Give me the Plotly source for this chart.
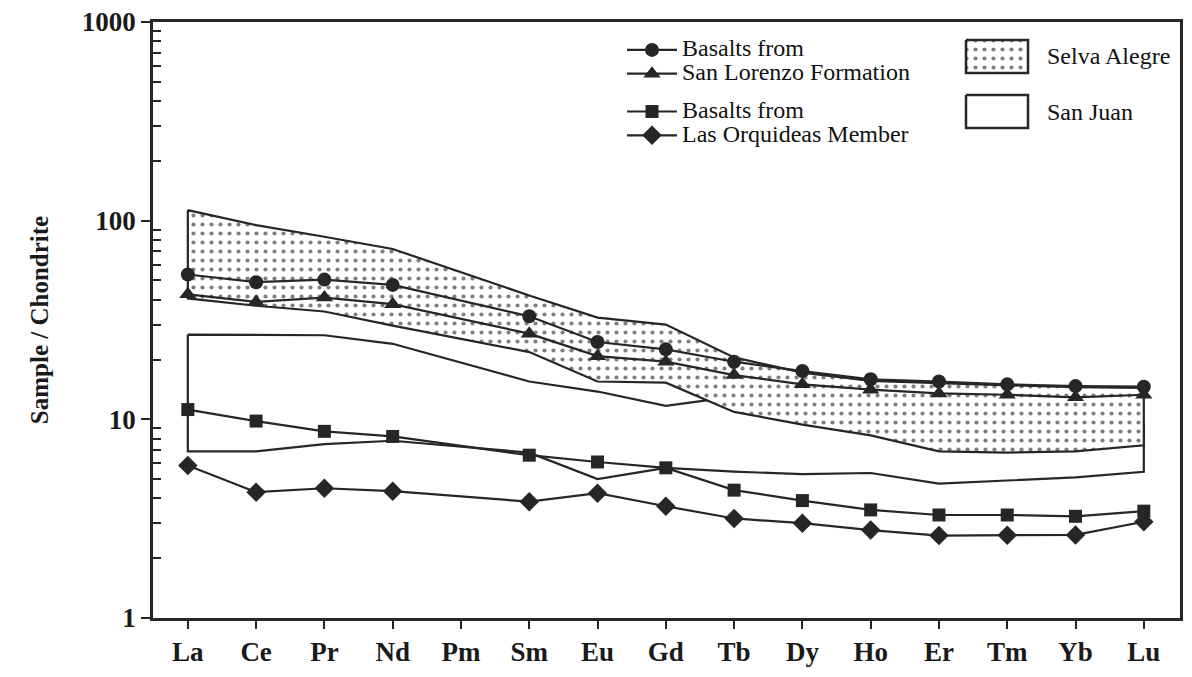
import plotly.graph_objects as go

# ---------------- data ----------------
ALL_REE = ["La", "Ce", "Pr", "Nd", "Pm", "Sm", "Eu", "Gd", "Tb", "Dy", "Ho", "Er", "Tm", "Yb", "Lu"]
MEASURED = ["La", "Ce", "Pr", "Nd", "Sm", "Eu", "Gd", "Tb", "Dy", "Ho", "Er", "Tm", "Yb", "Lu"]

san_lorenzo_a = [53.6, 49.0, 50.5, 47.5, 33.0, 24.5, 22.5, 19.5, 17.5, 15.9, 15.5, 15.0, 14.7, 14.6]   # circles
san_lorenzo_b = [42.6, 39.0, 41.0, 38.0, 27.0, 20.8, 19.5, 16.7, 15.0, 14.1, 13.5, 13.3, 12.9, 13.3]   # triangles
orquideas_a = [11.2, 9.8, 8.7, 8.2, 6.6, 6.1, 5.7, 4.4, 3.9, 3.5, 3.3, 3.3, 3.25, 3.45]              # squares
orquideas_b = [5.85, 4.3, 4.5, 4.35, 3.85, 4.25, 3.65, 3.17, 3.0, 2.77, 2.6, 2.61, 2.62, 3.05]        # diamonds

selva_upper = [113, 95, 83, 72, 42, 32.5, 30, 20.5, 17.2, 15.6, 15.2, 14.8, 14.5, 14.4]
selva_lower = [40.6, 37.3, 34.9, 29.6, 21.8, 15.5, 15.3, 10.9, 9.4, 8.3, 6.9, 6.8, 6.9, 7.4]
sanjuan_upper = [26.7, 26.6, 26.5, 24.0, 15.5, 13.8, 11.7, 13.0, 11.0, 10.0, 9.0, 9.0, 9.0, 9.5]
sanjuan_lower = [6.9, 6.9, 7.5, 7.8, 6.8, 5.0, 5.7, 5.45, 5.3, 5.37, 4.75, 4.93, 5.1, 5.44]

Y_TICKS = [1, 10, 100, 1000]
Y_TICK_TEXT = ["1", "10", "100", "1000"]

# ---------------- style / geometry ----------------
INK = "#262626"
LINE_W = 2.2
SERIF = "Liberation Serif"
OFF = 8                                   # page body margin of the html output
W, H = 1192 - OFF, 677 - OFF
PL, PR, PT, PB = 153, 1180, 22, 618       # plot-area box in window pixels
STIPPLE = dict(shape=".", fgcolor="#000000", bgcolor="white", size=9, solidity=0.17)
LEGEND_TEXT_PX = 24

def fx(px):   # window px -> paper x
    return (px - PL) / (PR - PL)

def fy(py):   # window py -> paper y
    return (PB - py) / (PB - PT)

def big(txt):
    return f"<span style='font-size:{LEGEND_TEXT_PX}px'>{txt}</span>"

fig = go.Figure()

def band(upper, lower):
    xs = MEASURED + MEASURED[::-1] + [MEASURED[0]]
    ys = list(upper) + list(lower)[::-1] + [upper[0]]
    return xs, ys

# San Juan field (white, outlined)
xs, ys = band(sanjuan_upper, sanjuan_lower)
fig.add_trace(go.Scatter(
    x=xs, y=ys, mode="lines", fill="toself", fillcolor="white",
    line=dict(color=INK, width=LINE_W), name="San Juan", showlegend=False,
    hoverinfo="skip"))

# Selva Alegre field (stippled)
xs, ys = band(selva_upper, selva_lower)
fig.add_trace(go.Scatter(
    x=xs, y=ys, mode="lines", fill="toself", fillpattern=STIPPLE,
    line=dict(color=INK, width=LINE_W), name="Selva Alegre", showlegend=False,
    hoverinfo="skip"))

def series(vals, symbol, size, name, group, rank):
    fig.add_trace(go.Scatter(
        x=MEASURED, y=vals, mode="lines+markers", name=big(name),
        line=dict(color=INK, width=LINE_W),
        marker=dict(symbol=symbol, size=size, color=INK, line=dict(width=0)),
        legendgroup=group, legendrank=rank))

# drawing order: lower series first, circles on top
series(orquideas_b, "diamond", 15, "Las Orquideas Member", "g2", 4)
series(orquideas_a, "square", 13, "Basalts from", "g2", 3)
series(san_lorenzo_b, "triangle-up", 15, "San Lorenzo Formation", "g1", 2)
series(san_lorenzo_a, "circle", 14, "Basalts from", "g1", 1)

# ---- key for the two fields: a small separate subplot in window-pixel units ----
KX0, KX1, KY0, KY1 = 962, 1032, 36, 132
def key_box(x0, x1, y0, y1, pattern, label):
    kw = dict(fillpattern=pattern) if pattern else dict(fillcolor="white")
    fig.add_trace(go.Scatter(
        x=[x0, x1, x1, x0, x0], y=[y0, y0, y1, y1, y0], mode="lines", fill="toself",
        line=dict(color=INK, width=2.5), xaxis="x2", yaxis="y2",
        showlegend=False, hoverinfo="skip", **kw))
    fig.add_annotation(x=fx(1045), y=fy((y0 + y1) / 2), xref="paper", yref="paper",
                       text=label, showarrow=False, xanchor="left", yanchor="middle",
                       font=dict(family=SERIF, size=24, color="#111"))

key_box(966, 1028, 40, 73, STIPPLE, "Selva Alegre")
key_box(966, 1028, 95, 128, None, "San Juan")

axis_common = dict(showgrid=False, zeroline=False, showline=True, linecolor=INK,
                   linewidth=2.5, mirror=True, automargin=False, tickcolor=INK,
                   ticklabeloverflow="allow")
tickfont = dict(family=SERIF, size=27, color="#1a1a1a", weight="bold")

fig.update_layout(
    width=W, height=H,
    margin=dict(l=PL - OFF, r=W - (PR - OFF), t=PT - OFF, b=H - (PB - OFF)),
    paper_bgcolor="white", plot_bgcolor="white",
    font=dict(family=SERIF, color=INK),
    showlegend=True,
    legend=dict(x=fx(622), y=fy(33), xanchor="left", yanchor="top",
                traceorder="grouped", tracegroupgap=14,
                font=dict(family=SERIF, size=16, color="#111"),
                bgcolor="rgba(0,0,0,0)", itemwidth=50),
    xaxis=dict(
        type="category", categoryorder="array", categoryarray=ALL_REE,
        tickvals=ALL_REE, ticktext=ALL_REE,
        range=[-0.51, 14.53],
        ticks="outside", ticklen=8, tickwidth=2,
        tickfont=tickfont, **axis_common),
    yaxis=dict(
        type="log", range=[0, 3],
        tickvals=Y_TICKS, ticktext=Y_TICK_TEXT,
        ticks="outside", ticklen=9, tickwidth=2,
        tickfont=tickfont,
        minor=dict(tickmode="array",
                   tickvals=[m * d for d in (1, 10, 100) for m in range(2, 10)],
                   ticks="inside", ticklen=8, tickwidth=2, tickcolor=INK, showgrid=False),
        title=dict(text="Sample / Chondrite", standoff=27,
                   font=dict(family=SERIF, size=25, color="#1a1a1a", weight="bold")),
        **axis_common),
    xaxis2=dict(domain=[fx(KX0), fx(KX1)], range=[KX0, KX1], anchor="y2",
                visible=False, fixedrange=True),
    yaxis2=dict(domain=[fy(KY1), fy(KY0)], range=[KY1, KY0], anchor="x2",
                visible=False, fixedrange=True),
)

fig.write_html("out.html")
